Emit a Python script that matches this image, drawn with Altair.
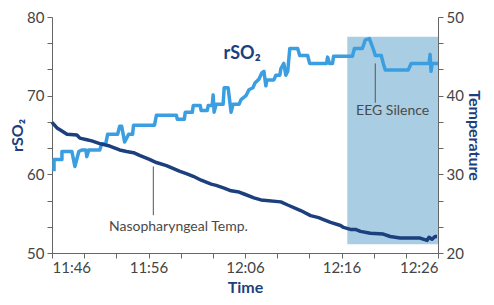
import altair as alt
import pandas as pd

# rSO2 (left axis, %), minutes after 11:46
RSO2_T = [0.21, 0.21, 1.03, 1.03, 2.06, 2.37, 2.78, 3.09, 3.51, 3.61, 3.81, 4.95, 5.15, 5.57, 5.77, 6.80,
          7.01, 7.22, 7.53, 7.94, 8.35, 8.45, 10.62, 10.82, 12.89, 12.99, 13.71, 13.81, 14.54, 14.64,
          15.36, 15.46, 16.08, 16.19, 16.60, 16.70, 16.80, 17.01, 17.73, 17.84, 18.25, 18.35, 18.56,
          18.76, 19.38, 19.59, 20.10, 20.41, 20.82, 21.03, 21.44, 21.75, 21.96, 22.16, 22.27, 22.99,
          23.20, 23.61, 23.71, 24.02, 24.23, 24.43, 24.64, 25.46, 25.67, 26.49, 26.70, 28.45, 28.56,
          28.76, 29.07, 29.18, 31.13, 31.34, 32.16, 32.47, 32.89, 33.30, 33.51, 34.12, 34.33, 34.54,
          36.91, 37.22, 39.07, 39.18, 39.28, 39.38, 40.0]
RSO2_V = [60.4, 61.9, 61.9, 62.9, 62.9, 61.0, 62.9, 63.1, 63.1, 62.25, 63.1, 63.1, 63.9, 63.9, 65.1, 65.1,
          66.1, 66.1, 64.1, 65.1, 65.1, 66.25, 66.25, 67.5, 67.5, 67.0, 67.0, 67.9, 67.9, 68.75,
          68.75, 68.1, 68.1, 68.75, 68.75, 70.1, 67.9, 68.9, 68.9, 71.0, 71.0, 70.0, 67.9,
          68.9, 68.9, 69.5, 70.0, 70.75, 71.0, 71.6, 72.1, 72.9, 73.1, 71.25, 72.0, 72.0,
          72.6, 72.6, 73.4, 74.1, 72.6, 73.1, 76.0, 76.0, 75.1, 75.1, 74.1, 74.1, 74.9,
          74.1, 74.1, 75.0, 75.0, 76.0, 76.0, 77.1, 77.25, 75.9, 75.1, 75.1, 74.1, 73.25,
          73.25, 74.1, 74.1, 75.25, 73.1, 74.1, 74.1]

# Nasopharyngeal temperature (right axis, °C)
TEMP_T = [0.0, 0.52, 1.03, 1.55, 2.58, 2.89, 3.61, 4.12, 4.95, 5.98, 7.01, 7.73, 8.45, 9.07, 10.10,
          10.82, 11.86, 13.20, 13.92, 14.64, 15.46, 16.49, 17.01, 17.84, 18.56, 19.38, 19.90, 20.93,
          21.65, 23.71, 24.43, 25.77, 26.80, 27.63, 28.14, 28.87, 29.90, 30.21, 30.93, 31.44, 31.96,
          32.99, 34.33, 35.05, 36.08, 38.14, 38.87, 39.07, 39.38, 39.69, 39.90]
TEMP_V = [36.6, 35.9, 35.5, 35.1, 35.0, 34.6, 34.4, 34.25, 33.9, 33.6, 33.1, 32.9, 32.75, 32.4, 31.9,
          31.5, 31.1, 30.4, 30.1, 29.75, 29.25, 28.75, 28.6, 28.25, 27.9, 27.75, 27.5, 27.0,
          26.75, 26.5, 26.1, 25.4, 24.75, 24.5, 24.25, 23.9, 23.5, 23.25, 23.0, 23.0, 22.75,
          22.5, 22.4, 22.1, 21.9, 21.9, 21.6, 22.0, 21.75, 22.1, 22.1]

# x tick labels
X_TICK_MIN = [0, 10, 20, 30, 40]
X_TICK_LABELS = ["11:46", "11:56", "12:06", "12:16", "12:26"]

# shaded EEG silence region
SHADE = {"t0": 30.6, "t1": 40.0, "v0": 51.1, "v1": 77.5}

# annotations
ANN_TEXT = ["rSO\u2082", "EEG Silence", "Nasopharyngeal Temp."]
ANN_T = [19.7, 35.3, 13.1]
ANN_V = [75.3, 68.0, 53.3]
LEADER_T = [33.5, 10.5]
LEADER_V0 = [74.1, 61.0]
LEADER_V1 = [69.1, 54.8]

LIGHT = "#3a9ee0"
NAVY = "#1c3f7e"
SHADE_C = "#a9cde3"
GREY = "#666666"
FONT = "Lato"

rso2 = pd.DataFrame({"t": RSO2_T, "v": RSO2_V, "i": range(len(RSO2_T))})
temp = pd.DataFrame({"t": TEMP_T, "v": TEMP_V, "i": range(len(TEMP_T))})
shade = pd.DataFrame([SHADE])
labels = pd.DataFrame({"text": ANN_TEXT, "t": ANN_T, "v": ANN_V, "k": ["title", "note", "note"]})
leaders = pd.DataFrame({"t": LEADER_T, "v0": LEADER_V0, "v1": LEADER_V1})

expr = ""
for m, lab in zip(X_TICK_MIN, X_TICK_LABELS):
    expr += f"datum.value == {m} ? '{lab}' : "
expr += "''"

x_axis = alt.Axis(values=[i * 40 / 12 for i in range(13)], labelExpr=expr, title="Time",
                  labelOverlap=False, labelFontSize=15, labelColor="#444", labelFont=FONT,
                  titleFont=FONT, titleFontSize=16, titleFontWeight="bold", titleColor=NAVY,
                  domainColor=GREY, tickColor=GREY, tickSize=5, labelPadding=2, titlePadding=4,
                  grid=False)
X = lambda f: alt.X(f, type="quantitative", scale=alt.Scale(domain=[0, 40], nice=False, zero=False),
                    axis=x_axis)

left_axis = alt.Axis(values=[50 + i * 10 / 3 for i in range(10)],
                     labelExpr="datum.value % 10 == 0 ? format(datum.value, 'd') : ''",
                     labelOverlap=False, title="rSO\u2082", labelFontSize=15, labelColor="#444",
                     labelFont=FONT, titleFont=FONT, titleFontSize=16, titleFontWeight="bold",
                     titleColor=NAVY, domainColor=GREY, tickColor=GREY, tickSize=5, labelPadding=3,
                     titlePadding=1, grid=False)
YL = lambda f: alt.Y(f, type="quantitative", scale=alt.Scale(domain=[50, 80], nice=False, zero=False),
                     axis=left_axis)

right_axis = alt.Axis(values=[20 + i * 10 / 3 for i in range(10)], orient="right",
                      labelExpr="datum.value % 10 == 0 ? format(datum.value, 'd') : ''",
                      labelOverlap=False, title="Temperature", labelFontSize=15, labelColor="#444",
                      labelFont=FONT, titleFont=FONT, titleFontSize=16, titleFontWeight="bold",
                      titleColor=NAVY, domainColor=GREY, tickColor=GREY, tickSize=5, labelPadding=3,
                      titlePadding=2, grid=False)

rect = alt.Chart(shade).mark_rect(color=SHADE_C, opacity=1).encode(
    x=X("t0"), x2="t1", y=YL("v0"), y2="v1")

rline = alt.Chart(rso2).mark_line(color=LIGHT, strokeWidth=3.5, strokeJoin="round").encode(
    x=X("t"), y=YL("v"), order="i:Q")

rules = alt.Chart(leaders).mark_rule(color="#555", strokeWidth=1).encode(
    x=X("t"), y=YL("v0"), y2="v1")

title_txt = alt.Chart(labels[labels.k == "title"]).mark_text(
    font=FONT, fontSize=18, fontWeight="bold", color=NAVY).encode(
    x=X("t"), y=YL("v"), text="text:N")

note_txt = alt.Chart(labels[labels.k == "note"]).mark_text(
    font=FONT, fontSize=14, color="#4a4a4a").encode(
    x=X("t"), y=YL("v"), text="text:N")

left = alt.layer(rect, rules, rline, title_txt, note_txt)

tline = alt.Chart(temp).mark_line(color=NAVY, strokeWidth=3.5, strokeJoin="round").encode(
    x=X("t"),
    y=alt.Y("v", type="quantitative", scale=alt.Scale(domain=[20, 50], nice=False, zero=False),
            axis=right_axis),
    order="i:Q")

chart = alt.layer(left, tline).resolve_scale(y="independent").properties(
    width=386, height=236,
    autosize=alt.AutoSizeParams(type="none"),
    padding={"left": 44, "top": 9, "right": 48, "bottom": 44},
).configure_view(stroke=None)

chart.save("out.html", embed_options={"renderer": "svg", "actions": False})
